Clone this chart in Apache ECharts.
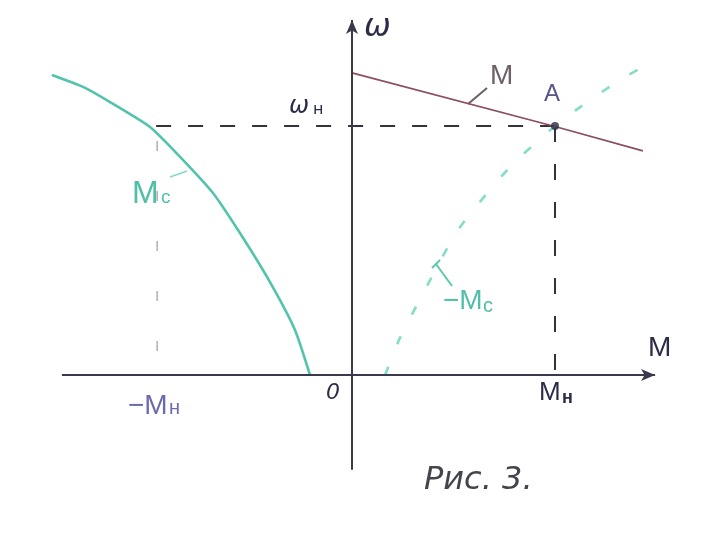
<!DOCTYPE html>
<html><head><meta charset="utf-8">
<script src="https://cdn.jsdelivr.net/npm/echarts@6/dist/echarts.min.js"></script>
<style>html,body{margin:0;padding:0;background:#fff}#c{width:720px;height:540px}</style>
</head><body><div id="c"></div>
<script>
// Data (x in units of M_H, y in units of ω_H)
const lineM = [[0, 1.213], [1.0, 0.998], [1.433, 0.90]];
const curveMc = [[-1.478, 1.205], [-1.325, 1.157], [-1.192, 1.096], [-0.995, 0.996], [-0.847, 0.876],
  [-0.685, 0.731], [-0.552, 0.570], [-0.404, 0.373], [-0.281, 0.181], [-0.207, 0]];
const curveNegMc = [[0.163, 0], [0.236, 0.149], [0.325, 0.289], [0.522, 0.582], [0.778, 0.835],
  [1.0, 1.0], [1.138, 1.084], [1.320, 1.185], [1.493, 1.265]];
const pointA = [1.0, 1.0];
const dashOmegaH = [[-0.965, 1.0], [1.0, 1.0]];
const dashMH = [[1.0, 1.0], [1.0, 0]];
const dashNegMH = [[-0.96, 0.94], [-0.96, 0]];
const xAxisExtent = [-1.429, 1.493];
const yAxisExtent = [-0.381, 1.426];

const chart = echarts.init(document.getElementById('c'));
const axisColor = '#3a3a4c';
function txt(left, top, text, font, fill) {
  return {type: 'text', left: left, top: top, style: {text: text, font: font, fill: fill}};
}
chart.setOption({
  backgroundColor: '#fff',
  animation: false,
  grid: {left: 27.2, right: 43.2, top: 1.5, bottom: 65.4},
  xAxis: {type: 'value', min: -1.6, max: 1.6, axisLine: {show: false}, axisTick: {show: false},
    axisLabel: {show: false}, splitLine: {show: false}},
  yAxis: {type: 'value', min: -0.4, max: 1.5, axisLine: {show: false}, axisTick: {show: false},
    axisLabel: {show: false}, splitLine: {show: false}},
  series: [
    {type: 'line', data: [], markLine: {silent: true, symbol: ['none', 'arrow'], symbolSize: [9, 14],
      label: {show: false}, lineStyle: {color: axisColor, width: 2, type: 'solid'},
      data: [
        [{coord: [xAxisExtent[0], 0]}, {coord: [xAxisExtent[1], 0]}],
        [{coord: [0, yAxisExtent[0]]}, {coord: [0, yAxisExtent[1]]}]
      ]}},
    {type: 'line', data: dashOmegaH, symbol: 'none', lineStyle: {color: '#333340', width: 2, type: [15, 17]}},
    {type: 'line', data: dashMH, symbol: 'none', lineStyle: {color: '#333340', width: 2, type: [16, 22]}},
    {type: 'line', data: dashNegMH, symbol: 'none', lineStyle: {color: '#9a9aa8', width: 1.2, type: [10, 40]}},
    {type: 'line', data: lineM, symbol: 'none', lineStyle: {color: '#8a4f60', width: 1.8}},
    {type: 'line', data: curveMc, symbol: 'none', smooth: 0.2, lineStyle: {color: '#52c4ac', width: 2.6}},
    {type: 'line', data: curveNegMc, symbol: 'none', smooth: 0.2, lineStyle: {color: '#86dcc6', width: 2.6, type: [9, 24]}},
    {type: 'scatter', data: [pointA], symbolSize: 8, itemStyle: {color: '#2a2a40'}, z: 10}
  ],
  graphic: [
    txt(364, 12, 'ω', 'italic 32px "DejaVu Sans"', '#2c2c48'),
    txt(289, 95, 'ω', 'italic 24px "DejaVu Sans"', '#2c2c48'),
    txt(313, 102, 'н', '16px "DejaVu Sans"', '#2c2c48'),
    txt(490, 62, 'M', '28px "Liberation Sans"', '#6e6068'),
    {type: 'line', shape: {x1: 468, y1: 104, x2: 487, y2: 88}, style: {stroke: '#6e6068', lineWidth: 2}},
    txt(544, 82, 'A', '24px "Liberation Sans"', '#55558a'),
    txt(132, 178, 'M', '32px "Liberation Sans"', '#4fbfa8'),
    txt(161, 188, 'c', '19px "Liberation Sans"', '#4fbfa8'),
    {type: 'line', shape: {x1: 170, y1: 177, x2: 187, y2: 171}, style: {stroke: '#7fdcc4', lineWidth: 1.5}},
    txt(443, 287, '−M', '28px "Liberation Sans"', '#4fbfa8'),
    txt(483, 296, 'c', '20px "Liberation Sans"', '#4fbfa8'),
    {type: 'line', shape: {x1: 436, y1: 264, x2: 452, y2: 286}, style: {stroke: '#5cc8b0', lineWidth: 2}},
    {type: 'line', shape: {x1: 432, y1: 268, x2: 440, y2: 260}, style: {stroke: '#5cc8b0', lineWidth: 2}},
    txt(648, 334, 'M', '28px "Liberation Sans"', '#2c2c48'),
    txt(539, 380, 'M', '26px "Liberation Sans"', '#2c2c48'),
    txt(562, 389, 'н', 'bold 18px "Liberation Sans"', '#2c2c48'),
    txt(326, 382, '0', 'italic 22px "DejaVu Sans"', '#2c2c48'),
    txt(128, 392, '−M', '28px "Liberation Sans"', '#6a6aac'),
    txt(169, 398, 'н', '20px "Liberation Sans"', '#6a6aac'),
    txt(424, 465, 'Рис. 3.', 'italic 32px "DejaVu Sans"', '#44444c')
  ]
});
</script></body></html>
